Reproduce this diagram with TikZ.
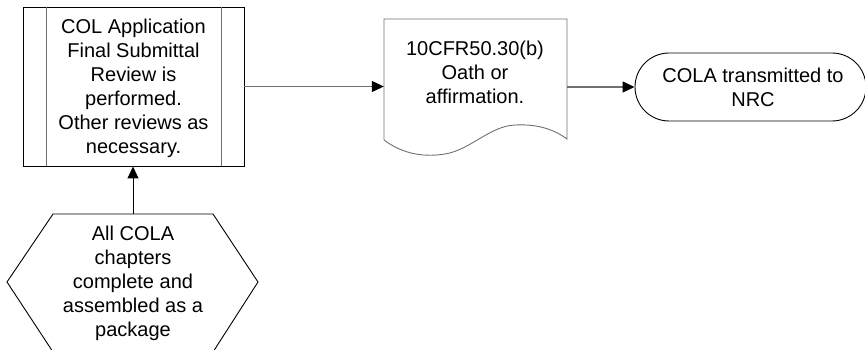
\documentclass[tikz,border=0pt]{standalone}
\usepackage{fontspec}
\setmainfont{Liberation Sans}
\usetikzlibrary{arrows.meta}
\definecolor{linegray}{HTML}{707070}
\tikzset{
  lbl/.style={font=\fontsize{20}{24}\selectfont, align=center},
  tip/.style={-{Triangle[length=12pt,width=11pt,color=black]}},
  flow/.style={draw=linegray, line width=1.2pt, tip},
  feed/.style={draw=black, line width=1pt, tip},
  shapeline/.style={line width=0.9pt},
}
\begin{document}
\begin{tikzpicture}[x=1pt,y=-1pt]
\useasboundingbox (0,0) rectangle (865,350);

% predefined process: review
\node[draw=black, shapeline, minimum width=221pt, minimum height=159pt, inner sep=0pt] (proc) at (133.5,86.5) {};
\draw[linegray, shapeline] (46,7) -- (46,166) (221,7) -- (221,166);
\node[lbl] (proctext) at (133.5,88) {COL Application\\Final Submittal\\Review is\\performed.\\Other reviews as\\necessary.};

% preparation hexagon, cut by the page edge
\coordinate (hexTop) at (133,214);
\draw[shapeline] (53,352) -- (7,282) -- (53,214) -- (213,214) -- (258,282) -- (213,352);
\node[lbl] (hextext) at (133,283) {All COLA\\chapters\\complete and\\assembled as a\\package};

% document: oath or affirmation
\node[minimum width=183pt, minimum height=121pt, inner sep=0pt] (doc) at (475.5,79.5) {};
\draw[linegray, shapeline] (384,140) -- (384,19) -- (567,19) -- (567,139)
  .. controls (552,128) and (535,124) .. (515,125)
  .. controls (490,126) and (470,150) .. (445,154)
  .. controls (420,158) and (400,152) .. (384,140);
\node[lbl] (doctext) at (475,72) {10CFR50.30(b)\\Oath or\\affirmation.};

% terminator
\node[draw=black, shapeline, rounded corners=34pt, minimum width=231pt, minimum height=68pt, inner sep=0pt] (term) at (750.5,87) {};
\node[lbl] (termtext) at (753,87) {COLA transmitted to\\NRC};

% connectors
\draw[feed] (hexTop) -- (hexTop |- proc.south);
\draw[flow] (proc.east) -- (proc.east -| doc.west);
\draw[flow] (doc.east |- term.west) -- (term.west);
\end{tikzpicture}
\end{document}
